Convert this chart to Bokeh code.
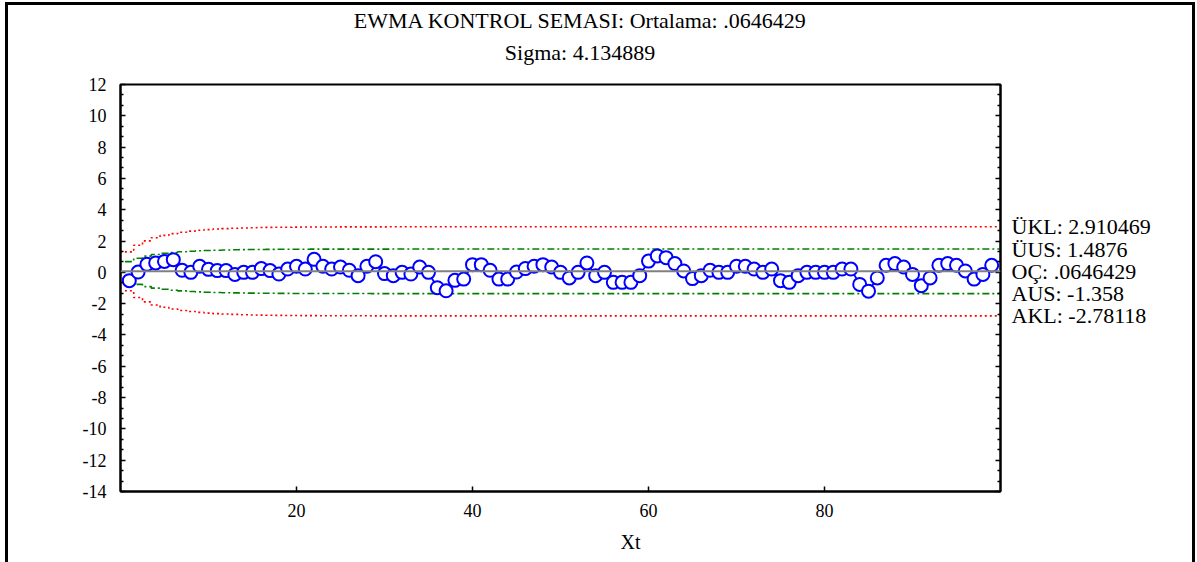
from bokeh.plotting import figure
from bokeh.layouts import column
from bokeh.models import Range1d, LinearAxis, FixedTicker, Span, Title, CustomJSTickFormatter
from bokeh.core.properties import value
from bokeh.embed import file_html
from bokeh.resources import INLINE

# ---- data ----
samples = list(range(1, 100))
ewma = [
    -0.53, 0.02, 0.51, 0.60, 0.70, 0.81, 0.13, 0.00, 0.385, 0.19,
    0.11, 0.11, -0.13, 0.00, 0.00, 0.24, 0.11, -0.11, 0.21, 0.385,
    0.21, 0.83, 0.385, 0.21, 0.34, 0.13, -0.21, 0.385, 0.68, -0.08,
    -0.21, 0.00, -0.11, 0.34, 0.00, -0.98, -1.18, -0.51, -0.43, 0.49,
    0.49, 0.13, -0.43, -0.43, 0.02, 0.24, 0.385, 0.49, 0.34, 0.00,
    -0.36, 0.00, 0.60, -0.21, 0.00, -0.64, -0.64, -0.64, -0.21, 0.72,
    1.05, 0.94, 0.56, 0.09, -0.40, -0.21, 0.13, 0.00, 0.00, 0.385,
    0.385, 0.21, 0.00, 0.21, -0.53, -0.64, -0.21, 0.00, 0.00, 0.00,
    0.00, 0.21, 0.21, -0.77, -1.20, -0.36, 0.45, 0.56, 0.34, -0.13,
    -0.85, -0.36, 0.45, 0.56, 0.45, 0.09, -0.43, -0.13, 0.45,
]
center = 0.0646429
sigma = 4.134889
ukl = 2.910469
uus = 1.4876
aus = -1.358
akl = -2.78118
# share of the full limit half-width at the first samples (limits widen at the start)
ramp = [0.4359, 0.5864, 0.6845, 0.7547, 0.8070, 0.8471, 0.8782, 0.9026, 0.9219, 0.9372,
        0.9495, 0.9593, 0.9672, 0.9735, 0.9786, 0.9827, 0.9860, 0.9887, 0.9909, 0.9926,
        0.9940, 0.9951, 0.9961, 0.9968, 0.9974, 0.9979, 0.9983, 0.9986, 0.9989, 0.9991]
title1 = "EWMA KONTROL SEMASI: Ortalama: .0646429"
title2 = "Sigma: 4.134889"
x_label = "Xt"
x_ticks = [20, 40, 60, 80]
y_ticks = list(range(-14, 13, 2))
limit_values = [ukl, uus, center, aus, akl]
limit_texts = ["ÜKL: 2.910469", "ÜUS: 1.4876", "OÇ: .0646429", "AUS: -1.358", "AKL: -2.78118"]

SERIF = "Liberation Serif"
W = 1197
HEAD = 74

# ---- heading strip (pixel coordinates, y measured from the top) ----
head = figure(width=W, height=HEAD, x_range=Range1d(0, W), y_range=Range1d(HEAD, 0),
              output_backend="svg", toolbar_location=None, x_axis_type=None, y_axis_type=None,
              min_border=0)
head.title.visible = False
head.grid.visible = False
head.outline_line_color = None
head.background_fill_color = None
head.border_fill_color = None
head.text(x=[626, 625], y=[20, 52], text=[title1, title2], text_align="center",
          text_baseline="middle", text_font=value(SERIF), text_font_size="22px",
          text_color="black")

# ---- main chart ----
ramp_full = ramp + [1.0] * (len(samples) - len(ramp))
edges = [s - 0.5 for s in samples] + [100]

def step_limit(level):
    vals = [center + (level - center) * r for r in ramp_full]
    return vals + [vals[-1]]

p = figure(width=W, height=562 - HEAD, x_range=Range1d(0, 100), y_range=Range1d(-14, 12),
           output_backend="svg", toolbar_location=None,
           min_border_left=120, min_border_right=197, min_border_top=84 - HEAD,
           min_border_bottom=71)
p.title.visible = False
p.grid.visible = False
p.background_fill_color = "white"
p.border_fill_color = None
p.outline_line_color = "black"
p.outline_line_width = 2

minor_y = [m + k * 2 / 3 for m in y_ticks[:-1] for k in (1, 2)]
plain = CustomJSTickFormatter(code="return tick.toString()")

def style_ticks(ax):
    ax.axis_line_width = 2
    ax.axis_line_color = "black"
    ax.major_tick_in = 5
    ax.major_tick_out = 0
    ax.minor_tick_in = 3
    ax.minor_tick_out = 0
    ax.major_tick_line_width = 1.5
    ax.minor_tick_line_width = 1.5
    ax.major_label_text_font = SERIF
    ax.major_label_text_font_size = "18px"
    ax.major_label_text_color = "black"

style_ticks(p.xaxis[0])
style_ticks(p.yaxis[0])
p.xaxis[0].ticker = FixedTicker(ticks=x_ticks, minor_ticks=[])
p.xaxis[0].major_label_standoff = 12
p.yaxis[0].ticker = FixedTicker(ticks=y_ticks, minor_ticks=minor_y)
p.yaxis[0].formatter = plain
p.yaxis[0].major_label_standoff = 14

# right axis: ticks only
ax_r = LinearAxis(ticker=FixedTicker(ticks=y_ticks, minor_ticks=minor_y),
                  formatter=CustomJSTickFormatter(code="return ''"))
style_ticks(ax_r)
ax_r.major_label_standoff = 0
ax_r.major_label_text_font_size = "1px"
p.add_layout(ax_r, "right")

# right axis: limit names and values
ax_lim = LinearAxis(ticker=FixedTicker(ticks=limit_values, minor_ticks=[]))
ax_lim.major_label_overrides = dict(zip(limit_values, limit_texts))
ax_lim.axis_line_color = None
ax_lim.major_tick_line_color = None
ax_lim.minor_tick_line_color = None
ax_lim.major_tick_in = 0
ax_lim.major_tick_out = 0
ax_lim.major_label_standoff = 11
ax_lim.major_label_text_font = SERIF
ax_lim.major_label_text_font_size = "22px"
ax_lim.major_label_text_color = "black"
p.add_layout(ax_lim, "right")

# center line
p.add_layout(Span(location=center, dimension="width", line_color="#808080", line_width=2))

# control and warning limits
p.step(edges, step_limit(ukl), mode="after", line_color="#ff0000", line_width=1.6, line_dash="2 3")
p.step(edges, step_limit(akl), mode="after", line_color="#ff0000", line_width=1.6, line_dash="2 3")
p.step(edges, step_limit(uus), mode="after", line_color="#008000", line_width=1.6, line_dash="7 3 2 3")
p.step(edges, step_limit(aus), mode="after", line_color="#008000", line_width=1.6, line_dash="7 3 2 3")

# EWMA series
p.line(samples, ewma, line_color="#0000ff", line_width=1.8)
p.scatter(samples, ewma, size=13, marker="circle", fill_color="white",
          line_color="#0000ff", line_width=2)

tx = Title(text=x_label, align="left", offset=500, text_font=SERIF, text_font_size="20px",
           text_font_style="normal", text_color="black", standoff=19)
p.add_layout(tx, "below")

page = column(head, p, spacing=0)
page.styles = {"box-shadow": "inset 5px 0 0 0 #fff, inset 0 2px 0 0 #fff, inset -2px 0 0 0 #fff, "
                             "inset 8px 0 0 0 #000, inset 0 5px 0 0 #000, inset -5px 0 0 0 #000"}

open("out.html", "w").write(file_html(page, INLINE))
